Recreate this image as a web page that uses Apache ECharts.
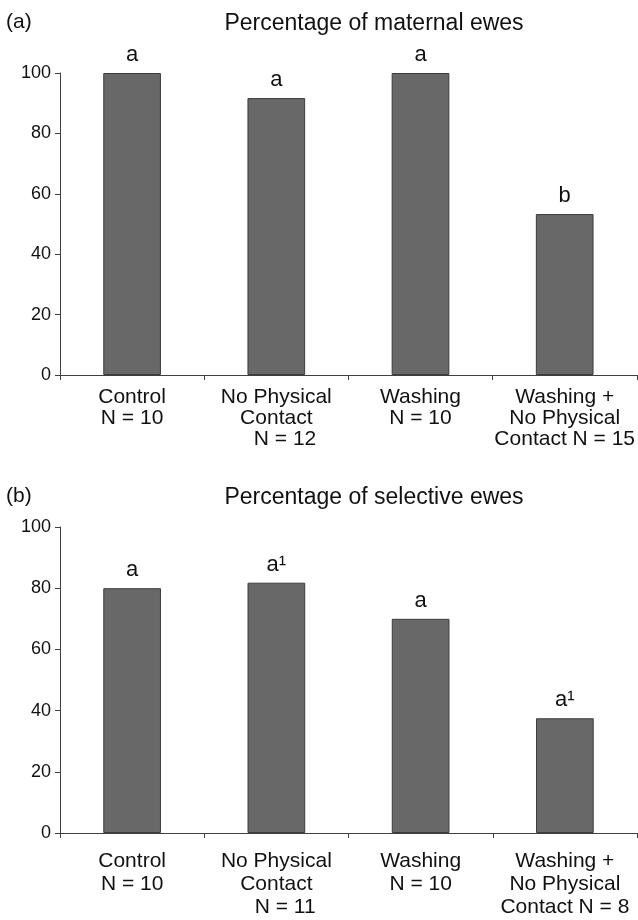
<!DOCTYPE html>
<html>
<head>
<meta charset="utf-8">
<script src="https://cdn.jsdelivr.net/npm/echarts@6/dist/echarts.min.js"></script>
<style>
html,body{margin:0;padding:0;background:#fff;}
#c{width:638px;height:920px;}
</style>
</head>
<body>
<div id="c"></div>
<script>
var categoriesA = ['Control\nN = 10', 'No Physical\nContact\n\u00a0\u00a0\u00a0N = 12', 'Washing\nN = 10', 'Washing +\nNo Physical\nContact N = 15'];
var valuesA = [100, 91.7, 100, 53.3];
var lettersA = ['a', 'a', 'a', 'b'];

var categoriesB = ['Control\nN = 10', 'No Physical\nContact\n\u00a0\u00a0\u00a0N = 11', 'Washing\nN = 10', 'Washing +\nNo Physical\nContact N = 8'];
var valuesB = [80, 81.8, 70, 37.5];
var lettersB = ['a', 'a\u00b9', 'a', 'a\u00b9'];

var yTicks = [0, 20, 40, 60, 80, 100];

var titleA = 'Percentage of maternal ewes';
var titleB = 'Percentage of selective ewes';

var FONT = '"Liberation Sans", Arial, sans-serif';
var axisColor = '#404040';

function xAxisCfg(gi, cats, lh, margin) {
  return {
    type: 'category', gridIndex: gi, data: cats,
    axisLine: {lineStyle: {color: axisColor, width: 1}},
    axisTick: {show: true, alignWithLabel: false, length: 5, lineStyle: {color: axisColor}},
    axisLabel: {color: '#111', fontFamily: FONT, fontSize: 21, lineHeight: lh, margin: margin, interval: 0}
  };
}
function yAxisCfg(gi) {
  return {
    type: 'value', gridIndex: gi, min: 0, max: 100, interval: 20,
    axisLine: {show: true, lineStyle: {color: axisColor, width: 1}},
    axisTick: {show: true, length: 5, lineStyle: {color: axisColor}},
    splitLine: {show: false},
    axisLabel: {color: '#111', fontFamily: FONT, fontSize: 18, margin: 9,
      formatter: function (v) { return yTicks.indexOf(v) >= 0 ? String(v) : ''; }}
  };
}
function seriesCfg(gi, vals, letters) {
  return {
    type: 'bar', xAxisIndex: gi, yAxisIndex: gi, data: vals, barWidth: '40%',
    itemStyle: {color: '#686868', borderColor: '#3c3c3c', borderWidth: 1},
    label: {show: true, position: 'top', distance: 7, color: '#111', fontFamily: FONT, fontSize: 22,
      formatter: function (p) { return letters[p.dataIndex]; }},
    animation: false
  };
}

var chart = echarts.init(document.getElementById('c'), null, {renderer: 'canvas'});
chart.setOption({
  backgroundColor: '#fff',
  animation: false,
  grid: [
    {left: 60, right: 1, top: 73, height: 302},
    {left: 60, right: 1, top: 527, height: 306}
  ],
  xAxis: [xAxisCfg(0, categoriesA, 21, 12), xAxisCfg(1, categoriesB, 23, 17)],
  yAxis: [yAxisCfg(0), yAxisCfg(1)],
  series: [seriesCfg(0, valuesA, lettersA), seriesCfg(1, valuesB, lettersB)],
  graphic: [
    {type: 'text', x: 6, y: 12, style: {text: '(a)', font: '21px ' + FONT, fill: '#111'}},
    {type: 'text', x: 374, y: 12, style: {text: titleA, font: '23px ' + FONT, fill: '#111', textAlign: 'center'}},
    {type: 'text', x: 6, y: 486, style: {text: '(b)', font: '21px ' + FONT, fill: '#111'}},
    {type: 'text', x: 374, y: 486, style: {text: titleB, font: '23px ' + FONT, fill: '#111', textAlign: 'center'}}
  ]
});
</script>
</body>
</html>
